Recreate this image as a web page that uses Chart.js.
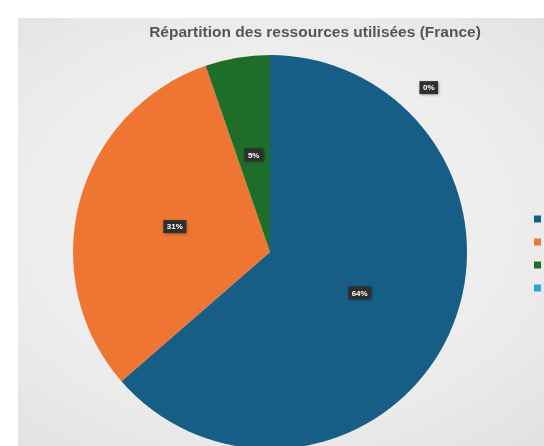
<!DOCTYPE html>
<html lang="fr">
<head>
<meta charset="utf-8">
<title>Répartition des ressources utilisées (France)</title>
<script src="https://cdn.jsdelivr.net/npm/chart.js@4.4.1/dist/chart.umd.min.js"></script>
<style>
    html, body {
        margin: 0;
        width: 544px;
        height: 446px;
        overflow: hidden;
        background: #ffffff;
    }
    #cadre {
        position: absolute;
        left: 18px;
        top: 18px;
        width: 594px;
        height: 450px;
        background: radial-gradient(ellipse at 42% 45%, #f5f5f5 0%, #ececec 55%, #dcdcdc 100%);
    }
</style>
</head>
<body>
<div id="cadre"><canvas id="graficoRessources"></canvas></div>
<script>
//Données du graphique
const ressources = ['Calcul (serveurs)', 'Stockage des données', 'Réseau et transfert', 'Autres ressources'];
const valeurs = [63.6, 31.1, 5.3, 0];
const couleurs = ['#175e87', '#ee7532', '#1e6e2a', '#2aa5dc'];

//Plugin pour dessiner les étiquettes de pourcentage (boîtes sombres)
const etiquettes = {
    id: 'etiquettes',
    afterDatasetsDraw(chart) {
        const ctx = chart.ctx;
        const meta = chart.getDatasetMeta(0);
        const total = valeurs.reduce((a, b) => a + b, 0);
        meta.data.forEach((arc, i) => {
            let x, y;
            if (valeurs[i] > 0) {
                ({x, y} = arc.tooltipPosition());
            } else {
                //étiquette des parts nulles placée hors du disque
                const angle = -Math.PI / 2 + 44 * Math.PI / 180;
                x = arc.x + Math.cos(angle) * arc.outerRadius * 1.16;
                y = arc.y + Math.sin(angle) * arc.outerRadius * 1.16;
            }
            const texte = Math.round(valeurs[i] / total * 100) + '%';
            ctx.save();
            ctx.font = 'bold 8px "Liberation Sans", Arial, sans-serif';
            const largeur = ctx.measureText(texte).width + 7;
            const hauteur = 13;
            ctx.shadowColor = 'rgba(0, 0, 0, 0.45)';
            ctx.shadowBlur = 3;
            ctx.shadowOffsetX = 1;
            ctx.shadowOffsetY = 1;
            ctx.fillStyle = '#2f2f2f';
            ctx.fillRect(x - largeur / 2, y - hauteur / 2, largeur, hauteur);
            ctx.shadowColor = 'transparent';
            ctx.fillStyle = '#ffffff';
            ctx.textAlign = 'center';
            ctx.textBaseline = 'middle';
            ctx.fillText(texte, x, y + 0.5);
            ctx.restore();
        });
    }
};

const elementRessources = document.getElementById('graficoRessources');

const donneesRessources = {
    labels: ressources,
    datasets: [{
        data: valeurs,
        backgroundColor: couleurs,
        borderWidth: 0
    }]
};

const graficoRessources = new Chart(elementRessources, {
    type: 'pie',
    data: donneesRessources,
    plugins: [etiquettes],
    options: {
        responsive: true,
        maintainAspectRatio: false,
        animation: false,
        layout: {
            padding: { top: 0, left: 0, right: 0, bottom: 19 }
        },
        plugins: {
            title: {
                display: true,
                text: 'Répartition des ressources utilisées (France)',
                color: '#555555',
                font: { family: '"Liberation Sans", Arial, sans-serif', size: 15.5, weight: 'bold', lineHeight: 1.2 },
                padding: { top: 5, bottom: 13.4 }
            },
            legend: {
                position: 'right',
                maxWidth: 90,
                //titre vide : sert seulement à descendre les entrées
                title: {
                    display: true,
                    text: '',
                    font: { size: 12, lineHeight: 1.2 },
                    padding: { top: 0, bottom: 25.6 }
                },
                labels: {
                    boxWidth: 7,
                    boxHeight: 7,
                    padding: 12,
                    color: '#595959',
                    font: { family: '"Liberation Sans", Arial, sans-serif', size: 11 }
                }
            },
            tooltip: { enabled: false }
        }
    }
});
</script>
</body>
</html>
